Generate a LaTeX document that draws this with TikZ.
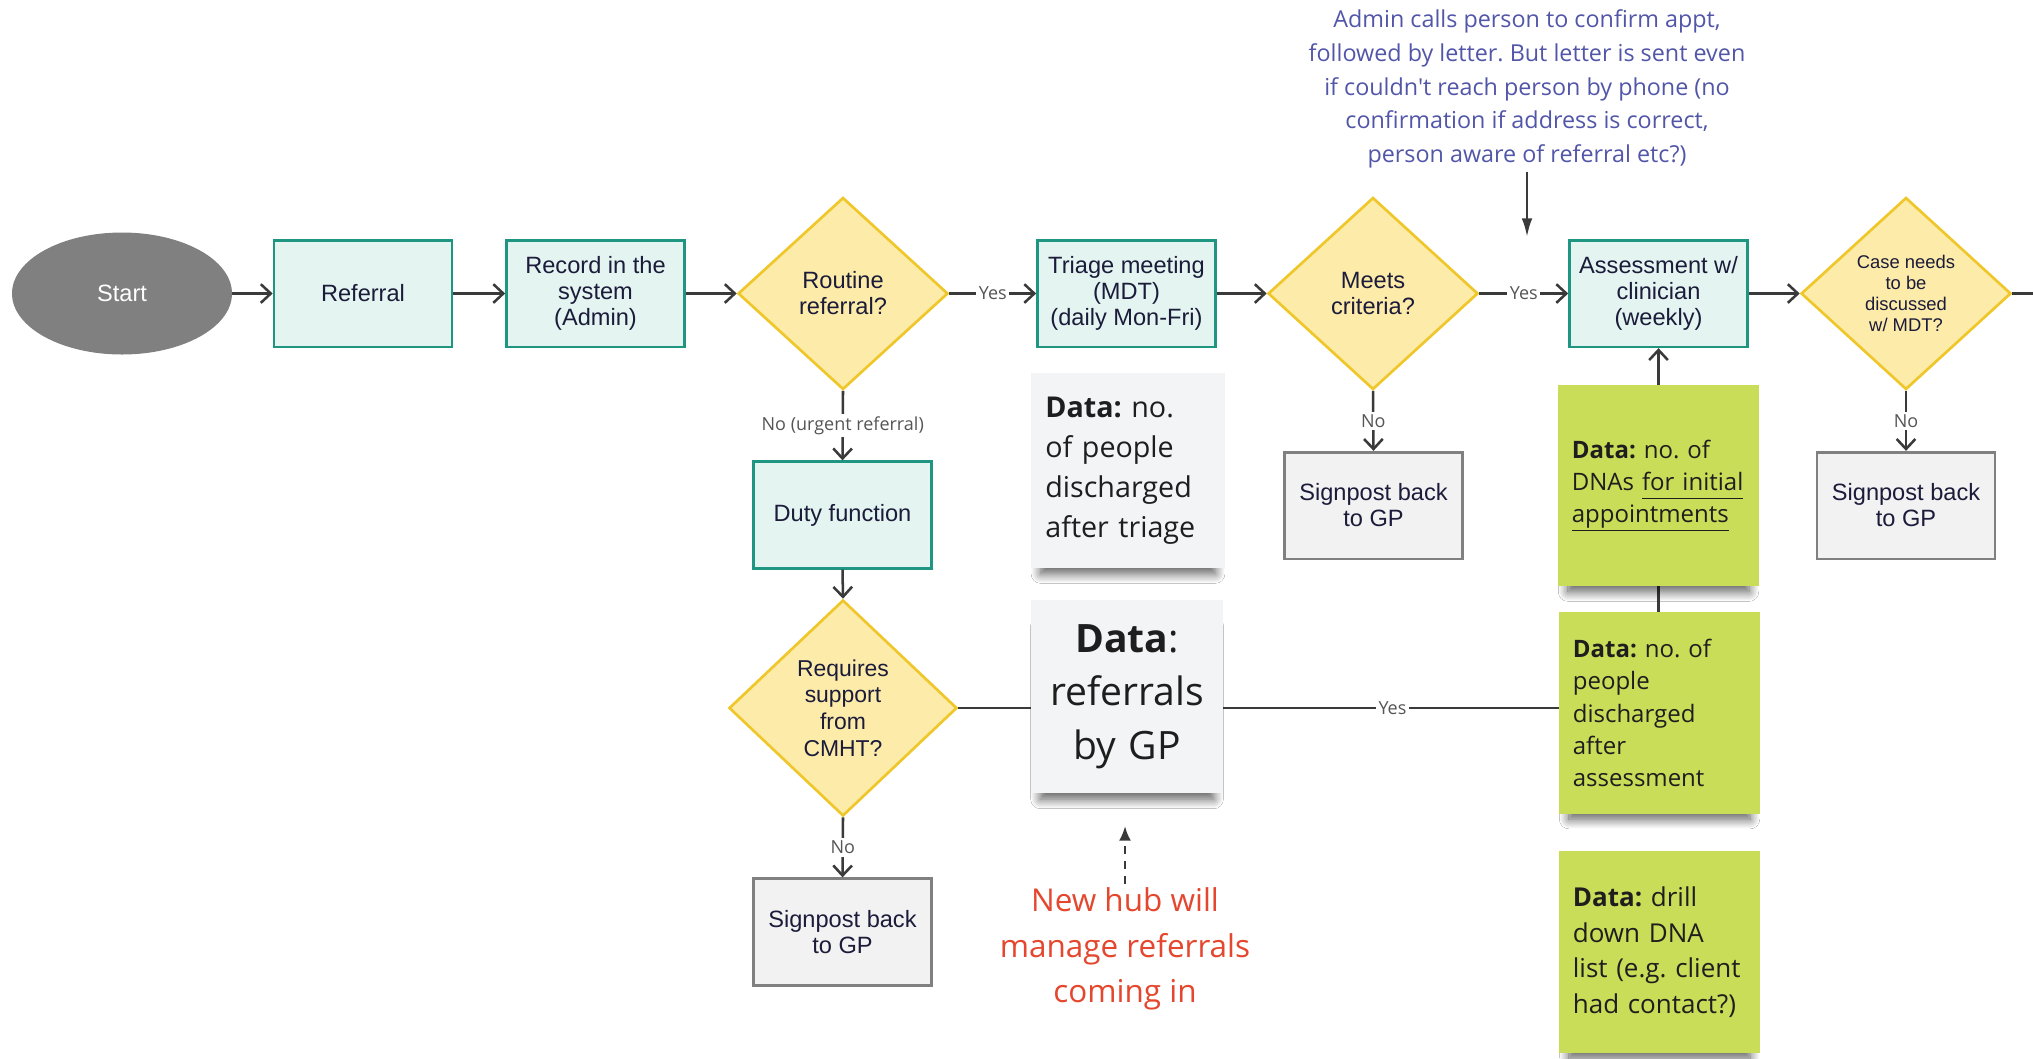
\documentclass[tikz,border=0pt]{standalone}
\usepackage{fontspec}
\setmainfont{Liberation Sans}
\newfontfamily\opensans{Open Sans}
\usetikzlibrary{shapes.geometric,arrows.meta,shadows.blur}
\frenchspacing

\definecolor{boxfill}{HTML}{E4F5F1}
\definecolor{boxline}{HTML}{1E9682}
\definecolor{decfill}{HTML}{FDEBAA}
\definecolor{decline}{HTML}{EFC72A}
\definecolor{gpfill}{HTML}{F2F2F2}
\definecolor{gpline}{HTML}{808080}
\definecolor{inktext}{HTML}{1B1B3A}
\definecolor{connline}{HTML}{3A3A3A}
\definecolor{lbltext}{HTML}{555555}
\definecolor{notefill}{HTML}{F3F4F6}
\definecolor{greenfill}{HTML}{C9DD58}
\definecolor{notetext}{HTML}{1E1E1E}
\definecolor{admintext}{HTML}{5256A8}
\definecolor{hubtext}{HTML}{E4472E}
\definecolor{startfill}{HTML}{808080}

\tikzset{
  boxfont/.style={font=\fontsize{17.7}{19.5}\selectfont},
  startnode/.style={ellipse, fill=startfill, draw=none, minimum width=165pt, minimum height=91.5pt,
    text=white, boxfont},
  proc/.style={rectangle, draw=boxline, line width=2pt, fill=boxfill, minimum width=133.5pt,
    minimum height=80pt, align=center, text=inktext, boxfont, inner sep=2pt},
  gpbox/.style={proc, draw=gpline, fill=gpfill},
  decision/.style={diamond, draw=decline, line width=2pt, fill=decfill, minimum width=157.5pt,
    minimum height=144pt, inner sep=0pt, align=center, text=inktext, boxfont},
  link/.style={draw=connline, line width=1.9pt},
  conn/.style={link, -{Straight Barb[length=7.5pt,width=14pt]}},
  lbl/.style={fill=white, text=lbltext, font=\opensans\fontsize{13.5}{15}\selectfont, inner sep=2pt},
  noteshadow/.style={blur shadow={shadow xshift=0pt, shadow yshift=-13pt, shadow opacity=65,
    shadow scale=0.9, shadow blur radius=8pt, shadow blur steps=12}},
  greynote/.style={rectangle, fill=notefill, text=notetext, align=left, inner xsep=10.75pt,
    text width=124pt, noteshadow},
  greennote/.style={rectangle, fill=greenfill, text=notetext, align=left, inner xsep=10.5pt,
    text width=130pt, minimum height=151pt, font=\opensans\fontsize{18}{24.3}\selectfont, noteshadow},
  admin/.style={align=center, text=admintext, font=\opensans\fontsize{17.5}{25.3}\selectfont, inner sep=3pt},
  hub/.style={align=center, text=hubtext, font=\opensans\fontsize{23.6}{34}\selectfont, inner sep=3pt},
  pointer/.style={link, -{Latex[length=14pt,width=8pt]}},
  dashpointer/.style={link, dash pattern=on 6pt off 5pt, -{Latex[length=11pt,width=9pt]}}
}

\begin{document}
\begin{tikzpicture}[x=0.75pt, y=-0.75pt]
  \useasboundingbox (0,0) rectangle (2033,1058);
  \fill[white] (0,0) rectangle (2033,1058);

  % main row
  \node[startnode] (start) at (122,293.5) {Start};
  \node[proc] (referral) at (363,293.5) {Referral};
  \node[proc] (record) at (595.5,293.5) {Record in the\\system\\(Admin)};
  \node[decision] (routine) at (843,293.5) {Routine\\referral?};
  \node[proc] (triage) at (1126.5,293.5) {Triage meeting\\(MDT)\\(daily Mon-Fri)};
  \node[decision] (meets) at (1373,293.5) {Meets\\criteria?};
  \node[proc] (assess) at (1658.5,293.5) {Assessment w/\\clinician\\(weekly)};
  \node[decision, font=\fontsize{13.8}{15.6}\selectfont] (caseq) at (1906,293.5) {Case needs\\to be\\discussed\\w/ MDT?};
  \coordinate (offright) at (2040,293.5);

  % urgent branch
  \node[proc] (duty) at (842.5,515) {Duty function};
  \node[decision, minimum width=171pt, minimum height=162pt, font=\fontsize{17.2}{20}\selectfont]
    (support) at (843,708) {Requires\\support\\from\\CMHT?};
  \node[gpbox] (gp1) at (842.5,932) {Signpost back\\to GP};

  % exits back to the GP
  \node[gpbox] (gp2) at (1373.5,505.5) {Signpost back\\to GP};
  \node[gpbox] (gp3) at (1906,505.5) {Signpost back\\to GP};

  % connectors
  \draw[conn] (start.east) -- (referral.west);
  \draw[conn] (referral.east) -- (record.west);
  \draw[conn] (record.east) -- (routine.west);
  \draw[conn] (routine.east) -- node[lbl]{Yes} (triage.west);
  \draw[conn] (triage.east) -- (meets.west);
  \draw[conn] (meets.east) -- node[lbl]{Yes} (assess.west);
  \draw[conn] (assess.east) -- (caseq.west);
  \draw[link] (caseq.east) -- (offright);
  \draw[conn] (routine.south) -- node[lbl]{No (urgent referral)} (duty.north);
  \draw[conn] (duty.south) -- (support.north);
  \draw[conn] (support.south) -- node[lbl]{No} (gp1.north);
  \draw[conn] (meets.south) -- node[lbl]{No} (gp2.north);
  \draw[conn] (caseq.south) -- node[lbl]{No} (gp3.north);
  \draw[conn] (support.east) -- node[lbl, pos=0.62]{Yes} (assess.south |- support.east) -- (assess.south);

  % data notes
  \node[greynote, font=\opensans\fontsize{21.5}{30}\selectfont, minimum height=146pt]
    (triagedata) at (1128,470.5) {\textbf{Data:} no.\\of people\\discharged\\after triage};
  \node[greynote, align=center, font=\opensans\fontsize{29.3}{40}\selectfont, text width=123pt, minimum height=145pt]
    (gpdata) at (1127,696.5) {\textbf{Data}:\\referrals\\by GP};
  \node[greennote] (dnadata) at (1658.5,485.5)
    {\textbf{Data:} no. of\\DNAs \underline{for initial\vphantom{p}}\\\underline{appointments}};
  \node[greennote] (dischdata) at (1659.5,713)
    {\textbf{Data:} no. of\\people\\discharged\\after\\assessment};
  \node[greennote, font=\opensans\fontsize{19.5}{26.6}\selectfont] (drilldata) at (1659.5,952)
    {\textbf{Data:} drill\\down DNA\\list (e.g. client\\had contact?)};

  % annotations
  \node[admin] (adminnote) at (1527,89) {Admin calls person to confirm appt,\\followed by letter. But letter is sent even\\if couldn't reach person by phone (no\\confirmation if address is correct,\\person aware of referral etc?)};
  \coordinate (admintip) at (1527,237);
  \draw[pointer] (adminnote.south) -- (admintip);

  \node[hub] (hub) at (1125,949) {New hub will\\manage referrals\\coming in};
  \coordinate (hubtip) at (1125,826);
  \draw[dashpointer] (hub.north) -- (hubtip);
\end{tikzpicture}
\end{document}
